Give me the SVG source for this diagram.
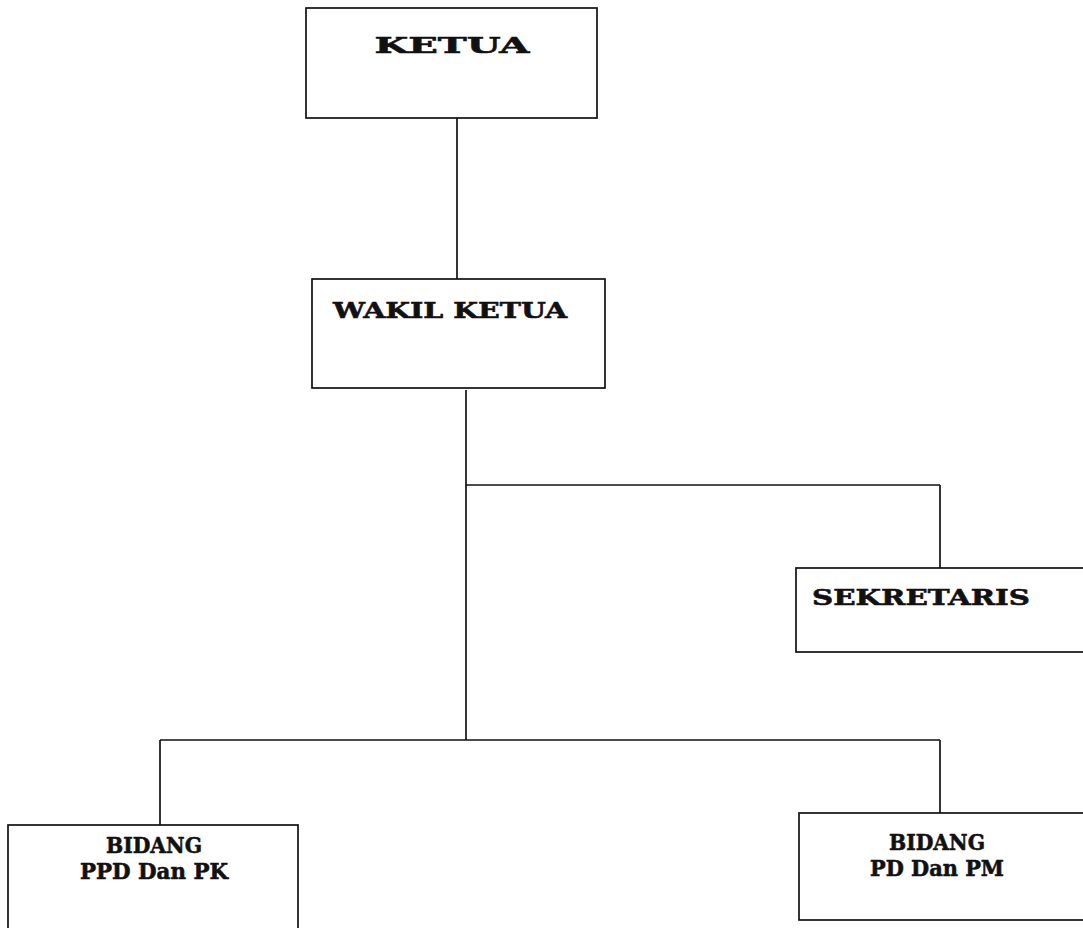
<svg xmlns="http://www.w3.org/2000/svg" width="1083" height="928" viewBox="0 0 1083 928">
<style>
.box{fill:#fff;stroke:#111;stroke-width:1.7}
.ln{stroke:#111;stroke-width:1.7;fill:none}
.t{font-family:"DejaVu Serif","Liberation Serif",serif;font-weight:bold;font-size:23px;fill:#111;stroke:#111;stroke-width:0.6;text-anchor:middle}
</style>
<rect width="1083" height="928" fill="#fff"/>
<g id="connectors">
<line class="ln" x1="457" y1="118" x2="457" y2="279"/>
<line class="ln" x1="466" y1="390" x2="466" y2="740"/>
<line class="ln" x1="466" y1="485" x2="940" y2="485"/>
<line class="ln" x1="940" y1="485" x2="940" y2="568"/>
<line class="ln" x1="160" y1="740" x2="940" y2="740"/>
<line class="ln" x1="160" y1="740" x2="160" y2="825"/>
<line class="ln" x1="940" y1="740" x2="940" y2="813"/>
</g>
<g id="ketua">
<rect class="box" x="306" y="8" width="291" height="110"/>
<text class="t" x="452" y="53" textLength="155" lengthAdjust="spacingAndGlyphs">KETUA</text>
</g>
<g id="wakil">
<rect class="box" x="312" y="279" width="293" height="109"/>
<text class="t" x="450" y="318" textLength="234" lengthAdjust="spacingAndGlyphs">WAKIL KETUA</text>
</g>
<g id="sekretaris">
<rect class="box" x="796" y="568" width="300" height="84"/>
<text class="t" x="921" y="605" textLength="218" lengthAdjust="spacingAndGlyphs">SEKRETARIS</text>
</g>
<g id="bidang1">
<rect class="box" x="8" y="825" width="290" height="120"/>
<text class="t" x="154" y="853" textLength="96" lengthAdjust="spacingAndGlyphs">BIDANG</text>
<text class="t" x="154" y="879" textLength="148" lengthAdjust="spacingAndGlyphs">PPD Dan PK</text>
</g>
<g id="bidang2">
<rect class="box" x="799" y="813" width="300" height="107"/>
<text class="t" x="937" y="850" textLength="96" lengthAdjust="spacingAndGlyphs">BIDANG</text>
<text class="t" x="937" y="876" textLength="134" lengthAdjust="spacingAndGlyphs">PD Dan PM</text>
</g>
</svg>
